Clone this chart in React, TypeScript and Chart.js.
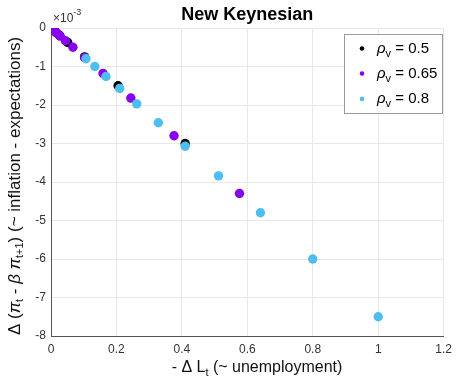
import React, { useEffect, useRef } from "react";
import { Chart, registerables } from "chart.js";

Chart.register(...registerables);

const titleText = "New Keynesian";
const legendLabels = ["0.5", "0.65", "0.8"];
const seriesColors = ["#000000", "#8800EE", "#4DBEEE"];

const blackX = [0.41, 0.205, 0.1025, 0.051, 0.026, 0.013, 0.0064, 0.0032, 0.0016, 0.0008];
const blackY = [-3.0, -1.5, -0.75, -0.375, -0.19, -0.095, -0.047, -0.023, -0.012, -0.006];

const purpleX = [0.576, 0.376, 0.244, 0.159, 0.103, 0.067, 0.044, 0.028, 0.018, 0.012, 0.0078, 0.0051, 0.0033, 0.0021, 0.0014];
const purpleY = [-4.3, -2.8, -1.82, -1.18, -0.77, -0.5, -0.33, -0.21, -0.135, -0.088, -0.057, -0.037, -0.024, -0.016, -0.01];

const blueX = [1.0, 0.8, 0.64, 0.512, 0.41, 0.328, 0.262, 0.21, 0.168, 0.134, 0.107];
const blueY = [-7.5, -6.0, -4.8, -3.84, -3.07, -2.46, -1.97, -1.57, -1.26, -1.0, -0.8];

const xMin = 0, xMax = 1.2, xStep = 0.2;
const yMin = -8, yMax = 0, yStep = 1;

const FONT = "'Liberation Sans', Arial, Helvetica, sans-serif";

type Seg = { t: string; size: number; style?: string; dy?: number };

function segWidth(ctx: CanvasRenderingContext2D, segs: Seg[]) {
  let w = 0;
  for (const s of segs) {
    ctx.font = `${s.style || ""} ${s.size}px ${FONT}`;
    w += ctx.measureText(s.t).width;
  }
  return w;
}

function drawRich(ctx: CanvasRenderingContext2D, x: number, y: number, segs: Seg[], align: "left" | "center") {
  const w = segWidth(ctx, segs);
  let cx = align === "center" ? x - w / 2 : x;
  ctx.textAlign = "left";
  ctx.textBaseline = "middle";
  for (const s of segs) {
    ctx.font = `${s.style || ""} ${s.size}px ${FONT}`;
    ctx.fillText(s.t, cx, y + (s.dy || 0));
    cx += ctx.measureText(s.t).width;
  }
}

const decorPlugin = {
  id: "decor",
  afterDraw(chart: any) {
    const ctx: CanvasRenderingContext2D = chart.ctx;
    const area = chart.chartArea;
    ctx.save();
    ctx.fillStyle = "#000";
    // title
    ctx.font = `bold 18px ${FONT}`;
    ctx.textAlign = "center";
    ctx.textBaseline = "middle";
    ctx.fillText(titleText, (area.left + area.right) / 2, 15);

    // exponent label
    ctx.fillStyle = "#333";
    drawRich(ctx, area.left + 2, 19, [
      { t: "×10", size: 12 },
      { t: "-3", size: 9, dy: -6 },
    ], "left");

    // x title
    ctx.fillStyle = "#111";
    drawRich(ctx, 257, 368, [
      { t: "- Δ L", size: 16 },
      { t: "t", size: 11, dy: 5 },
      { t: " (~ unemployment)", size: 16 },
    ], "center");

    // y title
    ctx.save();
    ctx.translate(15, 186);
    ctx.rotate(-Math.PI / 2);
    drawRich(ctx, 0, 0, [
      { t: "Δ (", size: 17 },
      { t: "π", size: 17, style: "italic" },
      { t: "t", size: 11, dy: 5 },
      { t: " - ", size: 17 },
      { t: "β", size: 17, style: "italic" },
      { t: " ", size: 17 },
      { t: "π", size: 17, style: "italic" },
      { t: "t+1", size: 11, dy: 5 },
      { t: ") (~ inflation - expectations)", size: 17 },
    ], "center");
    ctx.restore();

    // legend
    const lx = 344, ly = 34, lw = 98, lh = 79;
    ctx.fillStyle = "#ffffff";
    ctx.fillRect(lx, ly, lw, lh);
    ctx.strokeStyle = "#9a9a9a";
    ctx.lineWidth = 1;
    ctx.strokeRect(lx + 0.5, ly + 0.5, lw, lh);
    const rows = [48.5, 73.5, 99];
    for (let i = 0; i < legendLabels.length; i++) {
      ctx.fillStyle = seriesColors[i];
      ctx.beginPath();
      ctx.arc(362, rows[i], 2.3, 0, Math.PI * 2);
      ctx.fill();
      ctx.fillStyle = "#000";
      drawRich(ctx, 377, rows[i], [
        { t: "ρ", size: 15, style: "italic" },
        { t: "v", size: 11, dy: 5 },
        { t: " = " + legendLabels[i], size: 15 },
      ], "left");
    }
    ctx.restore();
  },
};

function toPoints(xs: number[], ys: number[]) {
  return xs.map((x, i) => ({ x, y: ys[i] }));
}

export default function App() {
  const ref = useRef<HTMLCanvasElement | null>(null);
  useEffect(() => {
    if (!ref.current) return;
    const chart = new Chart(ref.current, {
      type: "scatter",
      data: {
        datasets: [
          { label: "0.5", data: toPoints(blackX, blackY), backgroundColor: seriesColors[0], borderWidth: 0, pointRadius: 4.7, order: 2 },
          { label: "0.65", data: toPoints(purpleX, purpleY), backgroundColor: seriesColors[1], borderWidth: 0, pointRadius: 4.7, order: 1 },
          { label: "0.8", data: toPoints(blueX, blueY), backgroundColor: seriesColors[2], borderWidth: 0, pointRadius: 4.7, order: 0 },
        ],
      },
      options: {
        animation: false,
        responsive: false,
        maintainAspectRatio: false,
        layout: { padding: { left: 0, right: 9, top: 28, bottom: 0 } },
        plugins: { legend: { display: false }, tooltip: { enabled: false }, title: { display: false } },
        scales: {
          x: {
            type: "linear",
            min: xMin,
            max: xMax,
            afterFit: (s: any) => { s.height = 44; },
            ticks: {
              stepSize: xStep,
              color: "#333",
              font: { family: FONT, size: 12 },
              padding: 6,
              callback: (v: any) => String(Number(Number(v).toFixed(1))),
            },
            grid: { color: "#e8e8e8", drawTicks: false },
            border: { display: true, color: "#555", width: 1 },
          },
          y: {
            type: "linear",
            min: yMin,
            max: yMax,
            afterFit: (s: any) => { s.width = 51; },
            ticks: {
              stepSize: yStep,
              color: "#333",
              font: { family: FONT, size: 12 },
              padding: 5,
              callback: (v: any) => String(Math.round(Number(v))),
            },
            grid: { color: "#e8e8e8", drawTicks: false },
            border: { display: true, color: "#555", width: 1 },
          },
        },
      },
      plugins: [decorPlugin],
    } as any);
    return () => chart.destroy();
  }, []);
  return (
    <div style={{ position: "fixed", left: 0, top: 0, width: 458, height: 380, background: "#fff" }}>
      <canvas ref={ref} width={458} height={380} style={{ width: 458, height: 380, display: "block" }} />
    </div>
  );
}
